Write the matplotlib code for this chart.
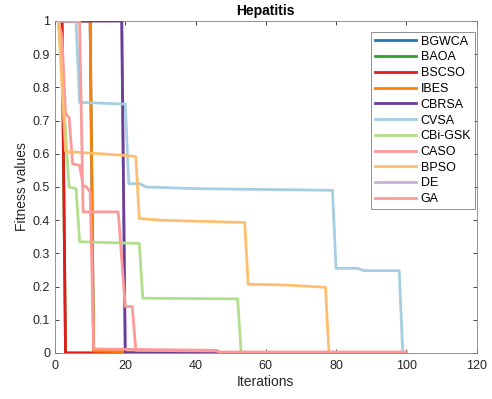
import matplotlib
matplotlib.use('agg')
import matplotlib.pyplot as plt

plt.rcParams['font.family'] = ['Liberation Sans', 'DejaVu Sans']

# convergence curves, (iteration, fitness) breakpoints per algorithm
names = ['BGWCA', 'BAOA', 'BSCSO', 'IBES', 'CBRSA', 'CVSA', 'CBi-GSK', 'CASO', 'BPSO', 'DE', 'GA']
colors = ['#1f78b4', '#33a02c', '#e31a1c', '#ff7f00', '#6a3d9a', '#a6cee3',
          '#b2df8a', '#fb9a99', '#fdbf6f', '#cab2d6', '#fb9a99']

it_bgwca = [1, 10, 11, 100]
fit_bgwca = [1, 1, 0, 0]
it_baoa = [1, 2, 3, 100]
fit_baoa = [1, 1, 0, 0]
it_bscso = [1, 2, 3, 100]
fit_bscso = [1, 1, 0, 0]
it_ibes = [1, 10, 11, 20, 21, 100]
fit_ibes = [1, 1, 0.006, 0.004, 0, 0]
it_cbrsa = [1, 19, 20, 100]
fit_cbrsa = [1, 1, 0, 0]
it_cvsa = [1, 6, 7, 19, 20, 21, 24, 26, 40, 79, 80, 86, 88, 98, 99, 100]
fit_cvsa = [1, 1, 0.755, 0.75, 0.75, 0.51, 0.51, 0.50, 0.495, 0.49, 0.255, 0.255, 0.248, 0.248, 0, 0]
it_gsk = [1, 4, 6, 7, 24, 25, 52, 53, 100]
fit_gsk = [1, 0.50, 0.495, 0.335, 0.33, 0.165, 0.163, 0, 0]
it_caso = [1, 2, 3, 4, 5, 7, 8, 9, 10, 11, 46, 47, 100]
fit_caso = [1, 0.95, 0.72, 0.71, 0.57, 0.565, 0.505, 0.50, 0.485, 0.012, 0.008, 0.002, 0.002]
it_bpso = [1, 3, 20, 23, 24, 30, 54, 55, 65, 77, 78, 100]
fit_bpso = [1, 0.607, 0.595, 0.592, 0.405, 0.40, 0.393, 0.207, 0.205, 0.198, 0, 0]
it_de = [1, 19, 20, 100]
fit_de = [1, 1, 0, 0]
it_ga = [1, 7, 8, 18, 20, 22, 23, 46, 47, 100]
fit_ga = [1, 1, 0.425, 0.425, 0.14, 0.14, 0.008, 0.006, 0.003, 0.003]

iters = [it_bgwca, it_baoa, it_bscso, it_ibes, it_cbrsa, it_cvsa, it_gsk, it_caso, it_bpso, it_de, it_ga]
fits = [fit_bgwca, fit_baoa, fit_bscso, fit_ibes, fit_cbrsa, fit_cvsa, fit_gsk, fit_caso, fit_bpso, fit_de, fit_ga]

fig = plt.figure(figsize=(4.92, 3.99), dpi=100)
ax = fig.add_axes([0.1118, 0.1153, 0.8567, 0.8321])

for k, (x, y) in enumerate(zip(iters, fits)):
    z = 2 + k
    if names[k] == 'DE':
        z = 1.5  # keep DE under CBRSA
    ax.plot(x, y, color=colors[k], lw=2, label=names[k], zorder=z)

ax.set_xlim(0, 120)
ax.set_ylim(0, 1)
ax.set_xticks(range(0, 121, 20))
ax.set_yticks([i / 10 for i in range(11)])
ax.set_yticklabels(['0', '0.1', '0.2', '0.3', '0.4', '0.5', '0.6', '0.7', '0.8', '0.9', '1'])
ax.tick_params(direction='in', length=3, width=0.6, labelsize=9, colors='#262626',
               top=True, right=True, labeltop=False, labelright=False)
ax.tick_params(axis='x', pad=5)
ax.tick_params(axis='y', pad=3.5)
for s in ax.spines.values():
    s.set_color('#808080')
    s.set_linewidth(0.6)

ax.set_xlabel('Iterations', fontsize=10, color='#262626', labelpad=2)
ax.set_ylabel('Fitness values', fontsize=10, color='#262626', labelpad=3)
ax.set_title('Hepatitis', fontsize=10, fontweight='bold', pad=4)

leg = ax.legend(loc='upper right', fontsize=9, frameon=True, fancybox=False,
                edgecolor='#606060', handlelength=3.3, handletextpad=0.35,
                labelspacing=0.3, borderpad=0.3, borderaxespad=0,
                bbox_to_anchor=(475 / 492, 367 / 399), bbox_transform=fig.transFigure)
leg.get_frame().set_linewidth(0.6)

fig.savefig('out.png', dpi=100)
